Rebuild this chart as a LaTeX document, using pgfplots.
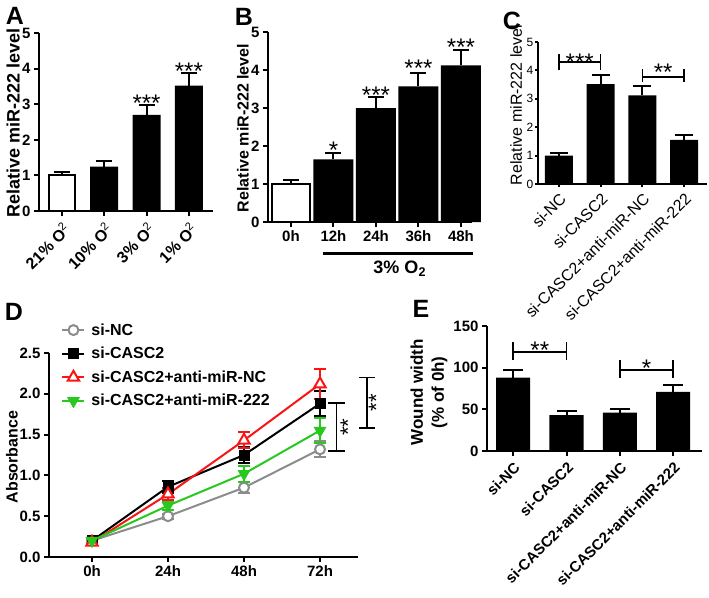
\documentclass[border=0pt]{standalone}
\usepackage{fontspec}
\setmainfont{Liberation Sans}
\usepackage{pgfplots}
\pgfplotsset{compat=1.18}

\newcommand\fs[1]{\fontsize{#1}{#1}\selectfont}
\definecolor{ngray}{RGB}{140,140,140}
\definecolor{nred}{RGB}{250,20,20}
\definecolor{ngreen}{RGB}{40,200,30}

\pgfplotsset{
  prism/.style={
    scale only axis, clip=false,
    axis lines=left,
    axis line style={-, line width=2pt},
    major tick style={black, line width=2pt},
    major tick length=5pt,
    tick align=outside,
    /pgf/number format/assume math mode=true,
    tick label style={font=\bfseries\fs{15}},
    ylabel style={font=\bfseries\fs{16}},
  },
  ebar/.style={
    error bars/y dir=plus, error bars/y explicit,
    error bars/error bar style={line width=2pt, black},
    error bars/error mark options={rotate=90, line width=2pt, black, mark size=#1}},
  bbar/.style={ybar, bar width=#1, bar shift=0pt, fill=black, draw=none},
  wbar/.style={ybar, bar width=#1, bar shift=0pt, fill=white, draw=black, line width=2pt},
  dline/.style={line width=2pt,
    error bars/y dir=both, error bars/y explicit,
    error bars/error bar style={line width=2pt},
    error bars/error mark options={rotate=90, line width=2pt, mark size=6pt}},
}
\tikzset{
  stars/.style={font=\fs{24}, anchor=base, yshift=-13.8pt},
  brk/.style={line width=1.5pt},
  letter/.style={font=\bfseries\fs{25}},
}

\begin{document}
\begin{tikzpicture}
\useasboundingbox (0,0) rectangle (709pt,-597pt);

% ---------------- A
\begin{axis}[prism, at={(39pt,-211pt)}, anchor=south west,
  width=174pt, height=178pt,
  xmin=-0.54, xmax=3.57, ymin=0, ymax=5, ytick={0,1,2,3,4,5},
  xtick={0,1,2,3},
  xticklabels={21\% O\textsuperscript{\mdseries 2},10\% O\textsuperscript{\mdseries 2},3\% O\textsuperscript{\mdseries 2},1\% O\textsuperscript{\mdseries 2}},
  xticklabel style={font=\bfseries\fs{16}, rotate=45, anchor=north east},
  ylabel={Relative miR-222 level},
  ylabel style={font=\bfseries\fs{18}, at={(axis description cs:-0.149,0.494)}, anchor=center},
]
\addplot[wbar=26pt, ebar=8pt] coordinates {(0,1.0) +- (0,0.1)};
\addplot[bbar=28pt, ebar=8pt] coordinates {(1,1.25) +- (0,0.15) (2,2.7) +- (0,0.27) (3,3.52) +- (0,0.36)};
\node[stars] at (axis cs:2,3.19) {***};
\node[stars] at (axis cs:3,4.07) {***};
\end{axis}

% ---------------- B
\begin{axis}[prism, at={(268pt,-222pt)}, anchor=south west,
  width=204pt, height=190pt,
  xmin=-0.54, xmax=4.26, ymin=0, ymax=5, ytick={0,1,2,3,4,5},
  xtick={0,1,2,3,4}, xticklabels={0h,12h,24h,36h,48h},
  ylabel={Relative miR-222 level},
  ylabel style={at={(axis description cs:-0.123,0.495)}, anchor=center},
]
\addplot[wbar=38pt, ebar=8pt] coordinates {(0,1.0) +- (0,0.1)};
\addplot[bbar=40pt, ebar=8pt] coordinates {(1,1.65) +- (0,0.17) (2,3.0) +- (0,0.28) (3,3.57) +- (0,0.36) (4,4.12) +- (0,0.4)};
\node[stars] at (axis cs:1,2.03) {*};
\node[stars] at (axis cs:2,3.47) {***};
\node[stars] at (axis cs:3,4.18) {***};
\node[stars] at (axis cs:4,4.74) {***};
\draw[line width=3pt] (axis cs:0.75,-0.84) -- (axis cs:4.28,-0.84);
\node[font=\bfseries\fs{18}] at (axis cs:2.56,-1.23) {3\% O\textsubscript{2}};
\end{axis}

% ---------------- C
\begin{axis}[prism, at={(538pt,-184pt)}, anchor=south west,
  width=169pt, height=142pt,
  xmin=-0.5, xmax=3.55, ymin=0, ymax=5, ytick={0,1,2,3,4,5},
  major tick length=3pt,
  yticklabel style={font=\fs{12}, inner sep=1.5pt},
  xtick={0,1,2,3},
  xticklabels={si-NC,si-CASC2,si-CASC2+anti-miR-NC,si-CASC2+anti-miR-222},
  xticklabel style={font=\fs{16}, rotate=45, anchor=north east},
  ylabel={Relative miR-222 level},
  ylabel style={font=\fs{16}, at={(axis description cs:-0.13,0.556)}, anchor=center},
]
\addplot[bbar=28pt, ebar=9pt] coordinates {(0,1.0) +- (0,0.1) (1,3.52) +- (0,0.33) (2,3.12) +- (0,0.33) (3,1.55) +- (0,0.17)};
\draw[brk] (axis cs:0,4.3) -- (axis cs:1,4.3);
\draw[brk] (axis cs:0,4.01) -- (axis cs:0,4.58);
\draw[brk] (axis cs:1,4.01) -- (axis cs:1,4.58);
\node[stars] at (axis cs:0.5,4.5) {***};
\draw[brk] (axis cs:2,3.77) -- (axis cs:3,3.77);
\draw[brk] (axis cs:2,3.6) -- (axis cs:2,4.05);
\draw[brk] (axis cs:3,3.6) -- (axis cs:3,4.05);
\node[stars] at (axis cs:2.5,4.14) {**};
\end{axis}

% ---------------- D
\begin{axis}[prism, at={(49pt,-557pt)}, anchor=south west,
  width=309pt, height=204pt,
  xmin=-0.566, xmax=3.5, ymin=0, ymax=2.5,
  ytick={0,0.5,1,1.5,2,2.5}, yticklabels={0.0,0.5,1.0,1.5,2.0,2.5},
  xtick={0,1,2,3}, xticklabels={0h,24h,48h,72h},
  ylabel={Absorbance},
  ylabel style={at={(axis description cs:-0.12,0.49)}, anchor=center},
  legend style={at={(axis description cs:0.03,1.165)}, anchor=north west,
    draw=none, fill=none, font=\bfseries\fs{16}, row sep=6.5pt,
    cells={anchor=west},
    /tikz/every odd column/.append style={column sep=4pt}},
  legend image code/.code={\draw[mark repeat=2, mark phase=2] plot coordinates {(0pt,0pt) (11pt,0pt) (22pt,0pt)};},
]
\addplot[ngray, dline, mark=*, mark size=5pt, mark options={fill=white, line width=2pt}]
  coordinates {(0,0.2) +- (0,0.02) (1,0.5) +- (0,0.03) (2,0.85) +- (0,0.07) (3,1.32) +- (0,0.1)};
\addlegendentry{si-NC}
\addplot[black, dline, mark=square*, mark size=5pt, mark options={line width=1pt}]
  coordinates {(0,0.2) +- (0,0.02) (1,0.86) +- (0,0.07) (2,1.25) +- (0,0.1) (3,1.88) +- (0,0.15)};
\addlegendentry{si-CASC2}
\addplot[nred, dline, mark=triangle*, mark size=6.5pt, mark options={fill=white, line width=2pt}]
  coordinates {(0,0.18) +- (0,0.02) (1,0.77) +- (0,0.07) (2,1.43) +- (0,0.1) (3,2.12) +- (0,0.18)};
\addlegendentry{si-CASC2+anti-miR-NC}
\addplot[ngreen, dline, mark=triangle*, mark size=6.5pt, mark options={rotate=180, line width=1pt}]
  coordinates {(0,0.2) +- (0,0.02) (1,0.63) +- (0,0.05) (2,1.02) +- (0,0.1) (3,1.55) +- (0,0.15)};
\addlegendentry{si-CASC2+anti-miR-222}
\draw[brk] (axis cs:3.22,1.30) -- (axis cs:3.22,1.89);
\draw[brk] (axis cs:3.11,1.89) -- (axis cs:3.33,1.89);
\draw[brk] (axis cs:3.11,1.30) -- (axis cs:3.33,1.30);
\node[font=\fs{22}, rotate=90] at (axis cs:3.37,1.59) {**};
\draw[brk] (axis cs:3.62,1.58) -- (axis cs:3.62,2.2);
\draw[brk] (axis cs:3.51,2.2) -- (axis cs:3.73,2.2);
\draw[brk] (axis cs:3.51,1.58) -- (axis cs:3.73,1.58);
\node[font=\fs{22}, rotate=90] at (axis cs:3.74,1.89) {**};
\end{axis}

% ---------------- E
\begin{axis}[prism, at={(487pt,-451pt)}, anchor=south west,
  width=215pt, height=125pt,
  xmin=-0.49, xmax=3.54, ymin=0, ymax=150, ytick={0,50,100,150},
  xtick={0,1,2,3},
  xticklabels={si-NC,si-CASC2,si-CASC2+anti-miR-NC,si-CASC2+anti-miR-222},
  xticklabel style={rotate=45, anchor=north east},
  ylabel={Wound width\\(\% of 0h)},
  ylabel style={font=\bfseries\fontsize{17}{21}\selectfont, align=center,
    at={(axis description cs:-0.27,0.47)}, anchor=center},
]
\addplot[bbar=34pt, ebar=10pt] coordinates {(0,88) +- (0,9) (1,43) +- (0,5) (2,46) +- (0,5) (3,71) +- (0,8)};
\draw[brk] (axis cs:0,119) -- (axis cs:1,119);
\draw[brk] (axis cs:0,109) -- (axis cs:0,131);
\draw[brk] (axis cs:1,109) -- (axis cs:1,131);
\node[stars] at (axis cs:0.5,127) {**};
\draw[brk] (axis cs:2,97) -- (axis cs:3,97);
\draw[brk] (axis cs:2,88) -- (axis cs:2,109);
\draw[brk] (axis cs:3,88) -- (axis cs:3,109);
\node[stars] at (axis cs:2.5,106) {*};
\end{axis}

% panel letters
\node[letter] at (15pt,-16pt) {A};
\node[letter] at (244pt,-17pt) {B};
\node[letter] at (512pt,-21pt) {C};
\node[letter] at (14pt,-312pt) {D};
\node[letter] at (421pt,-309pt) {E};
\end{tikzpicture}
\end{document}
